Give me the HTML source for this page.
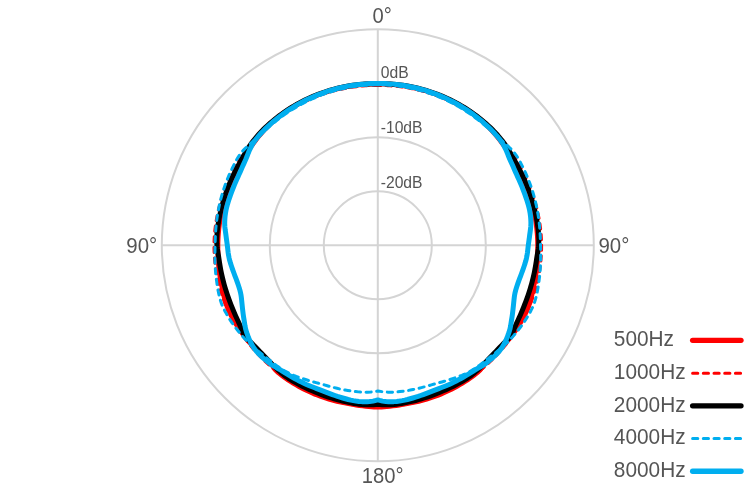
<!DOCTYPE html>
<html><head><meta charset="utf-8"><style>
html,body{margin:0;padding:0;background:#fff;width:756px;height:491px;overflow:hidden}
svg{display:block;will-change:transform}
text{font-family:"Liberation Sans",sans-serif;fill:#555}
</style></head><body>
<svg width="756" height="491" viewBox="0 0 756 491">
<g fill="none" stroke="#d4d4d4" stroke-width="2">
<circle cx="377.8" cy="245.3" r="54" />
<circle cx="377.8" cy="245.3" r="108" />
<circle cx="377.8" cy="245.3" r="162" />
<circle cx="377.8" cy="245.3" r="216" />
<line x1="377.8" y1="29.30000000000001" x2="377.8" y2="461.3" />
<line x1="161.8" y1="245.3" x2="593.8" y2="245.3" />
</g>
<g font-size="22">
<text transform="translate(382.2,22.5) scale(0.92,1)" text-anchor="middle">0°</text>
<text transform="translate(382.6,482.9) scale(0.92,1)" text-anchor="middle">180°</text>
<text transform="translate(157.3,252.8) scale(0.93,1)" text-anchor="end">90°</text>
<text transform="translate(598.5,252.8) scale(0.93,1)">90°</text>
</g>
<g font-size="16">
<text transform="translate(380.7,77.8) scale(0.98,1)">0dB</text>
<text transform="translate(380.7,132.6) scale(0.98,1)">-10dB</text>
<text transform="translate(380.7,187.6) scale(0.98,1)">-20dB</text>
</g>
<path d="M377.80,83.80 L376.25,83.80 L374.45,83.82 L372.40,83.86 L370.13,83.94 L367.67,84.07 L365.04,84.24 L362.25,84.47 L359.34,84.77 L356.32,85.13 L353.21,85.56 L350.05,86.07 L346.84,86.64 L343.63,87.29 L340.41,88.00 L337.23,88.77 L334.09,89.60 L331.03,90.47 L328.05,91.38 L325.19,92.31 L322.46,93.26 L319.81,94.22 L317.17,95.23 L314.54,96.28 L311.94,97.37 L309.35,98.50 L306.77,99.67 L304.22,100.89 L301.69,102.16 L299.18,103.47 L296.69,104.82 L294.23,106.22 L291.80,107.67 L289.39,109.16 L287.02,110.71 L284.67,112.30 L282.36,113.94 L280.08,115.62 L277.84,117.36 L275.64,119.14 L273.48,120.97 L271.38,122.83 L269.38,124.70 L267.46,126.57 L265.60,128.47 L263.81,130.37 L262.07,132.31 L260.37,134.26 L258.71,136.25 L257.08,138.28 L255.47,140.35 L253.87,142.48 L252.27,144.66 L250.68,146.91 L249.09,149.24 L247.48,151.65 L245.87,154.15 L244.24,156.76 L242.59,159.48 L240.92,162.32 L239.24,165.30 L238.09,167.39 L236.93,169.58 L235.75,171.88 L234.57,174.27 L233.39,176.75 L232.22,179.31 L231.07,181.95 L229.95,184.66 L228.85,187.43 L227.79,190.26 L226.77,193.14 L225.80,196.05 L224.87,199.00 L224.00,201.97 L223.19,204.96 L222.43,207.95 L221.74,210.93 L221.10,213.91 L220.53,216.86 L220.02,219.79 L219.56,222.67 L219.17,225.50 L218.83,228.28 L218.55,230.99 L218.32,233.62 L218.13,236.16 L217.99,238.61 L217.90,240.96 L217.83,243.19 L217.80,245.30 L217.81,249.51 L217.91,253.38 L218.07,256.94 L218.27,260.21 L218.51,263.24 L218.77,266.05 L219.05,268.67 L219.35,271.13 L219.66,273.47 L219.98,275.70 L220.32,277.87 L220.67,280.00 L221.06,282.13 L221.49,284.27 L222.22,287.82 L222.89,290.96 L223.51,293.77 L224.10,296.35 L224.71,298.80 L225.37,301.21 L226.13,303.65 L227.04,306.21 L228.02,308.69 L228.98,310.91 L229.95,313.00 L231.01,315.12 L232.21,317.38 L233.64,319.92 L235.37,322.86 L237.50,326.30 L238.72,328.16 L240.11,330.21 L241.67,332.41 L243.38,334.73 L245.23,337.12 L247.19,339.57 L249.24,342.03 L251.37,344.47 L253.54,346.87 L255.73,349.21 L257.92,351.45 L260.06,353.58 L262.13,355.58 L264.10,357.44 L265.92,359.12 L267.58,360.63 L269.02,361.95 L272.21,365.04 L273.49,366.72 L274.09,367.96 L275.27,369.63 L278.37,372.56 L279.91,373.82 L281.68,375.20 L283.66,376.68 L285.82,378.23 L288.15,379.83 L290.63,381.45 L293.22,383.07 L295.91,384.68 L298.66,386.24 L301.45,387.75 L304.25,389.20 L307.03,390.56 L309.75,391.83 L312.40,393.00 L314.92,394.08 L317.30,395.04 L320.32,396.19 L323.26,397.24 L326.13,398.19 L328.94,399.05 L331.69,399.83 L334.38,400.54 L337.03,401.20 L339.64,401.80 L342.21,402.36 L344.77,402.89 L347.31,403.38 L349.84,403.85 L352.96,404.40 L356.18,404.93 L359.45,405.42 L362.69,405.86 L365.84,406.23 L368.83,406.53 L371.59,406.76 L374.05,406.93 L376.15,407.04 L377.80,407.10 L379.45,407.04 L381.55,406.93 L384.01,406.76 L386.77,406.53 L389.76,406.23 L392.91,405.86 L396.15,405.42 L399.42,404.93 L402.64,404.40 L405.76,403.85 L408.29,403.38 L410.83,402.89 L413.39,402.36 L415.96,401.80 L418.57,401.20 L421.22,400.54 L423.91,399.83 L426.66,399.05 L429.47,398.19 L432.34,397.24 L435.28,396.19 L438.30,395.04 L440.68,394.08 L443.20,393.00 L445.85,391.83 L448.57,390.56 L451.35,389.20 L454.15,387.75 L456.94,386.24 L459.69,384.68 L462.38,383.07 L464.97,381.45 L467.45,379.83 L469.78,378.23 L471.94,376.68 L473.92,375.20 L475.69,373.82 L477.23,372.56 L480.33,369.63 L481.51,367.96 L482.11,366.72 L483.39,365.04 L486.58,361.95 L488.02,360.63 L489.68,359.12 L491.50,357.44 L493.47,355.58 L495.54,353.58 L497.68,351.45 L499.87,349.21 L502.06,346.87 L504.23,344.47 L506.36,342.03 L508.41,339.57 L510.37,337.12 L512.22,334.73 L513.93,332.41 L515.49,330.21 L516.88,328.16 L518.10,326.30 L520.23,322.86 L521.96,319.92 L523.39,317.38 L524.59,315.12 L525.65,313.00 L526.62,310.91 L527.58,308.69 L528.56,306.21 L529.47,303.65 L530.23,301.21 L530.89,298.80 L531.50,296.35 L532.09,293.77 L532.71,290.96 L533.38,287.82 L534.11,284.27 L534.54,282.13 L534.93,280.00 L535.28,277.87 L535.62,275.70 L535.94,273.47 L536.25,271.13 L536.55,268.67 L536.83,266.05 L537.09,263.24 L537.33,260.21 L537.53,256.94 L537.69,253.38 L537.79,249.51 L537.80,245.30 L537.77,243.19 L537.70,240.96 L537.61,238.61 L537.47,236.16 L537.28,233.62 L537.05,230.99 L536.77,228.28 L536.43,225.50 L536.04,222.67 L535.58,219.79 L535.07,216.86 L534.50,213.91 L533.86,210.93 L533.17,207.95 L532.41,204.96 L531.60,201.97 L530.73,199.00 L529.80,196.05 L528.83,193.14 L527.81,190.26 L526.75,187.43 L525.65,184.66 L524.53,181.95 L523.38,179.31 L522.21,176.75 L521.03,174.27 L519.85,171.88 L518.67,169.58 L517.51,167.39 L516.36,165.30 L514.68,162.32 L513.01,159.48 L511.36,156.76 L509.73,154.15 L508.12,151.65 L506.51,149.24 L504.92,146.91 L503.33,144.66 L501.73,142.48 L500.13,140.35 L498.52,138.28 L496.89,136.25 L495.23,134.26 L493.53,132.31 L491.79,130.37 L490.00,128.47 L488.14,126.57 L486.22,124.70 L484.22,122.83 L482.12,120.97 L479.96,119.14 L477.76,117.36 L475.52,115.62 L473.24,113.94 L470.93,112.30 L468.58,110.71 L466.21,109.16 L463.80,107.67 L461.37,106.22 L458.91,104.82 L456.42,103.47 L453.91,102.16 L451.38,100.89 L448.83,99.67 L446.25,98.50 L443.66,97.37 L441.06,96.28 L438.43,95.23 L435.79,94.22 L433.14,93.26 L430.41,92.31 L427.55,91.38 L424.57,90.47 L421.51,89.60 L418.37,88.77 L415.19,88.00 L411.97,87.29 L408.76,86.64 L405.55,86.07 L402.39,85.56 L399.28,85.13 L396.26,84.77 L393.35,84.47 L390.56,84.24 L387.93,84.07 L385.47,83.94 L383.20,83.86 L381.15,83.82 L379.35,83.80 Z" fill="none" stroke="#ff0000" stroke-width="5" stroke-linejoin="round" stroke-linecap="round"/>
<path d="M377.80,85.50 L376.28,85.48 L374.53,85.49 L372.56,85.51 L370.37,85.57 L367.98,85.67 L365.42,85.81 L362.68,86.01 L359.78,86.27 L356.74,86.60 L353.57,87.00 L350.28,87.48 L346.89,88.04 L343.41,88.69 L339.87,89.44 L336.26,90.27 L334.05,90.82 L331.79,91.41 L329.47,92.05 L327.10,92.74 L324.69,93.48 L322.24,94.27 L319.75,95.12 L317.23,96.03 L314.68,96.99 L312.10,98.01 L309.50,99.09 L306.89,100.24 L304.26,101.45 L301.63,102.72 L298.99,104.05 L296.35,105.45 L293.72,106.91 L291.10,108.44 L288.49,110.03 L285.90,111.68 L283.33,113.39 L280.78,115.16 L278.27,116.99 L275.79,118.88 L273.35,120.82 L271.32,122.49 L269.28,124.25 L267.23,126.07 L265.18,127.97 L263.13,129.93 L261.09,131.96 L259.06,134.05 L257.05,136.20 L255.07,138.41 L253.11,140.68 L251.19,142.99 L249.31,145.34 L247.46,147.74 L245.67,150.17 L243.91,152.64 L242.21,155.13 L240.57,157.64 L238.98,160.16 L237.44,162.70 L235.97,165.24 L234.56,167.78 L233.21,170.31 L231.92,172.82 L230.69,175.32 L229.53,177.79 L228.43,180.23 L227.39,182.64 L226.41,184.99 L225.49,187.30 L224.63,189.55 L223.44,192.83 L222.36,196.01 L221.37,199.09 L220.47,202.08 L219.65,205.00 L218.90,207.84 L218.22,210.62 L217.60,213.35 L217.04,216.03 L216.53,218.67 L216.07,221.29 L215.66,223.90 L215.30,226.49 L214.97,229.09 L214.70,231.70 L214.46,234.34 L214.27,237.00 L214.13,239.71 L214.04,242.48 L214.00,245.30 L214.01,248.16 L214.08,251.02 L214.20,253.87 L214.37,256.73 L214.59,259.58 L214.87,262.42 L215.20,265.27 L215.58,268.10 L216.01,270.93 L216.49,273.74 L217.03,276.55 L217.62,279.35 L218.26,282.13 L218.95,284.91 L219.69,287.66 L220.49,290.41 L221.33,293.14 L222.22,295.85 L223.17,298.54 L224.16,301.22 L225.19,303.84 L226.26,306.39 L227.35,308.87 L228.47,311.29 L229.62,313.66 L230.81,315.99 L232.03,318.30 L233.30,320.59 L234.61,322.86 L235.96,325.14 L237.38,327.42 L238.85,329.72 L240.39,332.04 L242.00,334.39 L243.69,336.77 L245.48,339.20 L247.36,341.67 L249.35,344.20 L251.46,346.79 L253.70,349.43 L255.28,351.24 L256.95,353.09 L258.70,354.97 L260.53,356.89 L262.43,358.82 L264.41,360.76 L266.47,362.71 L268.59,364.66 L270.78,366.60 L273.04,368.53 L275.35,370.43 L277.71,372.31 L280.13,374.15 L282.58,375.96 L285.08,377.72 L287.61,379.44 L290.16,381.10 L292.73,382.72 L295.32,384.27 L297.91,385.76 L300.50,387.19 L303.09,388.56 L305.65,389.86 L308.20,391.09 L310.71,392.25 L313.19,393.35 L315.62,394.38 L318.00,395.34 L320.32,396.23 L322.56,397.06 L325.89,398.22 L329.23,399.30 L332.57,400.31 L335.90,401.24 L339.21,402.09 L342.48,402.85 L345.71,403.54 L348.87,404.15 L351.97,404.69 L354.98,405.15 L357.89,405.54 L360.70,405.87 L363.38,406.13 L365.93,406.35 L368.34,406.51 L370.59,406.63 L372.67,406.71 L374.57,406.77 L376.29,406.79 L377.80,406.80 L379.31,406.79 L381.03,406.77 L382.93,406.71 L385.01,406.63 L387.26,406.51 L389.67,406.35 L392.22,406.13 L394.90,405.87 L397.71,405.54 L400.62,405.15 L403.63,404.69 L406.73,404.15 L409.89,403.54 L413.12,402.85 L416.39,402.09 L419.70,401.24 L423.03,400.31 L426.37,399.30 L429.71,398.22 L433.04,397.06 L435.28,396.23 L437.60,395.34 L439.98,394.38 L442.41,393.35 L444.89,392.25 L447.40,391.09 L449.95,389.86 L452.51,388.56 L455.10,387.19 L457.69,385.76 L460.28,384.27 L462.87,382.72 L465.44,381.10 L467.99,379.44 L470.52,377.72 L473.02,375.96 L475.47,374.15 L477.89,372.31 L480.25,370.43 L482.56,368.53 L484.82,366.60 L487.01,364.66 L489.13,362.71 L491.19,360.76 L493.17,358.82 L495.07,356.89 L496.90,354.97 L498.65,353.09 L500.32,351.24 L501.90,349.43 L504.14,346.79 L506.25,344.20 L508.24,341.67 L510.12,339.20 L511.91,336.77 L513.60,334.39 L515.21,332.04 L516.75,329.72 L518.22,327.42 L519.64,325.14 L520.99,322.86 L522.30,320.59 L523.57,318.30 L524.79,315.99 L525.98,313.66 L527.13,311.29 L528.25,308.87 L529.34,306.39 L530.41,303.84 L531.44,301.22 L532.43,298.54 L533.38,295.85 L534.27,293.14 L535.11,290.41 L535.91,287.66 L536.65,284.91 L537.34,282.13 L537.98,279.35 L538.57,276.55 L539.11,273.74 L539.59,270.93 L540.02,268.10 L540.40,265.27 L540.73,262.42 L541.01,259.58 L541.23,256.73 L541.40,253.87 L541.52,251.02 L541.59,248.16 L541.60,245.30 L541.56,242.48 L541.47,239.71 L541.33,237.00 L541.14,234.34 L540.90,231.70 L540.63,229.09 L540.30,226.49 L539.94,223.90 L539.53,221.29 L539.07,218.67 L538.56,216.03 L538.00,213.35 L537.38,210.62 L536.70,207.84 L535.95,205.00 L535.13,202.08 L534.23,199.09 L533.24,196.01 L532.16,192.83 L530.97,189.55 L530.11,187.30 L529.19,184.99 L528.21,182.64 L527.17,180.23 L526.07,177.79 L524.91,175.32 L523.68,172.82 L522.39,170.31 L521.04,167.78 L519.63,165.24 L518.16,162.70 L516.62,160.16 L515.03,157.64 L513.39,155.13 L511.69,152.64 L509.93,150.17 L508.14,147.74 L506.29,145.34 L504.41,142.99 L502.49,140.68 L500.53,138.41 L498.55,136.20 L496.54,134.05 L494.51,131.96 L492.47,129.93 L490.42,127.97 L488.37,126.07 L486.32,124.25 L484.28,122.49 L482.25,120.82 L479.81,118.88 L477.33,116.99 L474.82,115.16 L472.27,113.39 L469.70,111.68 L467.11,110.03 L464.50,108.44 L461.88,106.91 L459.25,105.45 L456.61,104.05 L453.97,102.72 L451.34,101.45 L448.71,100.24 L446.10,99.09 L443.50,98.01 L440.92,96.99 L438.37,96.03 L435.85,95.12 L433.36,94.27 L430.91,93.48 L428.50,92.74 L426.13,92.05 L423.81,91.41 L421.55,90.82 L419.34,90.27 L415.73,89.44 L412.19,88.69 L408.71,88.04 L405.32,87.48 L402.03,87.00 L398.86,86.60 L395.82,86.27 L392.92,86.01 L390.18,85.81 L387.62,85.67 L385.23,85.57 L383.04,85.51 L381.07,85.49 L379.32,85.48 Z" fill="none" stroke="#ff0000" stroke-width="3" stroke-linejoin="round" stroke-linecap="round" stroke-dasharray="5.2,5.5"/>
<path d="M377.80,83.80 L376.12,83.78 L373.97,83.77 L371.41,83.81 L368.55,83.89 L365.46,84.04 L362.24,84.26 L358.96,84.55 L355.72,84.91 L352.59,85.32 L349.67,85.76 L347.01,86.22 L344.55,86.68 L342.20,87.16 L339.90,87.67 L337.54,88.23 L335.06,88.86 L332.37,89.59 L329.39,90.46 L326.06,91.51 L322.29,92.79 L320.19,93.54 L317.93,94.40 L315.52,95.35 L312.99,96.39 L310.36,97.53 L307.65,98.76 L304.89,100.08 L302.10,101.48 L299.30,102.96 L296.51,104.50 L293.74,106.09 L291.03,107.73 L288.39,109.40 L285.83,111.08 L283.38,112.77 L281.04,114.44 L278.84,116.08 L276.78,117.66 L274.88,119.17 L273.15,120.59 L270.12,123.18 L267.51,125.53 L265.24,127.66 L263.24,129.62 L261.44,131.45 L259.78,133.22 L258.19,134.98 L256.61,136.80 L255.01,138.73 L253.32,140.85 L251.65,143.06 L250.11,145.25 L248.66,147.43 L247.27,149.62 L245.90,151.87 L244.54,154.19 L243.14,156.62 L241.69,159.19 L240.17,161.94 L238.54,164.90 L237.40,167.02 L236.22,169.27 L235.01,171.64 L233.79,174.11 L232.57,176.66 L231.37,179.29 L230.19,181.99 L229.04,184.72 L227.94,187.49 L226.89,190.26 L225.89,193.03 L224.96,195.78 L224.09,198.49 L223.30,201.14 L222.58,203.71 L221.80,206.64 L221.06,209.60 L220.36,212.58 L219.72,215.56 L219.13,218.52 L218.61,221.45 L218.14,224.33 L217.75,227.14 L217.42,229.88 L217.17,232.52 L216.98,235.04 L216.86,237.43 L216.80,239.68 L216.85,243.30 L217.06,246.28 L217.36,248.84 L217.73,251.18 L218.12,253.55 L218.55,256.14 L219.01,259.19 L219.37,261.64 L219.78,264.26 L220.24,267.00 L220.76,269.84 L221.33,272.71 L221.95,275.59 L222.61,278.43 L223.30,281.20 L224.00,283.84 L224.70,286.32 L225.57,289.25 L226.46,292.04 L227.35,294.74 L228.26,297.34 L229.17,299.87 L230.10,302.34 L231.04,304.78 L231.99,307.19 L233.12,309.95 L234.28,312.72 L235.45,315.43 L236.62,318.05 L237.76,320.54 L238.85,322.85 L239.84,324.95 L241.14,327.95 L242.02,330.35 L242.97,332.63 L244.49,335.22 L246.00,337.19 L247.80,339.24 L249.80,341.32 L251.90,343.40 L254.00,345.47 L256.00,347.50 L257.87,349.47 L259.68,351.38 L261.50,353.28 L263.36,355.24 L265.34,357.31 L267.49,359.53 L269.26,361.36 L271.16,363.34 L273.18,365.40 L275.28,367.48 L277.41,369.53 L279.55,371.48 L281.64,373.29 L283.64,374.90 L286.09,376.73 L288.35,378.28 L290.54,379.67 L292.76,381.00 L295.14,382.37 L297.80,383.86 L299.97,385.03 L302.22,386.19 L304.56,387.33 L307.00,388.47 L309.56,389.62 L312.24,390.79 L315.07,391.97 L318.05,393.19 L320.40,394.11 L322.94,395.08 L325.65,396.06 L328.47,397.04 L331.35,397.98 L334.25,398.87 L337.13,399.70 L339.92,400.45 L342.58,401.11 L345.06,401.68 L347.31,402.16 L350.87,402.87 L353.91,403.42 L356.57,403.85 L359.02,404.21 L361.39,404.48 L363.86,404.69 L367.05,404.83 L370.31,404.84 L373.37,404.75 L375.95,404.61 L377.80,404.50 L379.65,404.61 L382.23,404.75 L385.29,404.84 L388.55,404.83 L391.74,404.69 L394.21,404.48 L396.58,404.21 L399.03,403.85 L401.69,403.42 L404.73,402.87 L408.29,402.16 L410.54,401.68 L413.02,401.11 L415.68,400.45 L418.47,399.70 L421.35,398.87 L424.25,397.98 L427.13,397.04 L429.95,396.06 L432.66,395.08 L435.20,394.11 L437.55,393.19 L440.53,391.97 L443.36,390.79 L446.04,389.62 L448.60,388.47 L451.04,387.33 L453.38,386.19 L455.63,385.03 L457.80,383.86 L460.46,382.37 L462.84,381.00 L465.06,379.67 L467.25,378.28 L469.51,376.73 L471.96,374.90 L473.96,373.29 L476.05,371.48 L478.19,369.53 L480.32,367.48 L482.42,365.40 L484.44,363.34 L486.34,361.36 L488.11,359.53 L490.26,357.31 L492.24,355.24 L494.10,353.28 L495.92,351.38 L497.73,349.47 L499.60,347.50 L501.60,345.47 L503.70,343.40 L505.80,341.32 L507.80,339.24 L509.60,337.19 L511.11,335.22 L512.63,332.63 L513.58,330.35 L514.46,327.95 L515.76,324.95 L516.75,322.85 L517.84,320.54 L518.98,318.05 L520.15,315.43 L521.32,312.72 L522.48,309.95 L523.61,307.19 L524.56,304.78 L525.50,302.34 L526.43,299.87 L527.34,297.34 L528.25,294.74 L529.14,292.04 L530.03,289.25 L530.90,286.32 L531.60,283.84 L532.30,281.20 L532.99,278.43 L533.65,275.59 L534.27,272.71 L534.84,269.84 L535.36,267.00 L535.82,264.26 L536.23,261.64 L536.59,259.19 L537.05,256.14 L537.48,253.55 L537.87,251.18 L538.24,248.84 L538.54,246.28 L538.75,243.30 L538.80,239.68 L538.74,237.43 L538.62,235.04 L538.43,232.52 L538.18,229.88 L537.85,227.14 L537.46,224.33 L536.99,221.45 L536.47,218.52 L535.88,215.56 L535.24,212.58 L534.54,209.60 L533.80,206.64 L533.02,203.71 L532.30,201.14 L531.51,198.49 L530.64,195.78 L529.71,193.03 L528.71,190.26 L527.66,187.49 L526.56,184.72 L525.41,181.99 L524.23,179.29 L523.03,176.66 L521.81,174.11 L520.59,171.64 L519.38,169.27 L518.20,167.02 L517.06,164.90 L515.43,161.94 L513.91,159.19 L512.46,156.62 L511.06,154.19 L509.70,151.87 L508.33,149.62 L506.94,147.43 L505.49,145.25 L503.95,143.06 L502.28,140.85 L500.59,138.73 L498.99,136.80 L497.41,134.98 L495.82,133.22 L494.16,131.45 L492.36,129.62 L490.36,127.66 L488.09,125.53 L485.48,123.18 L482.45,120.59 L480.72,119.17 L478.82,117.66 L476.76,116.08 L474.56,114.44 L472.22,112.77 L469.77,111.08 L467.21,109.40 L464.57,107.73 L461.86,106.09 L459.09,104.50 L456.30,102.96 L453.50,101.48 L450.71,100.08 L447.95,98.76 L445.24,97.53 L442.61,96.39 L440.08,95.35 L437.67,94.40 L435.41,93.54 L433.31,92.79 L429.54,91.51 L426.21,90.46 L423.23,89.59 L420.54,88.86 L418.06,88.23 L415.70,87.67 L413.40,87.16 L411.05,86.68 L408.59,86.22 L405.93,85.76 L403.01,85.32 L399.88,84.91 L396.64,84.55 L393.36,84.26 L390.14,84.04 L387.05,83.89 L384.19,83.81 L381.63,83.77 L379.48,83.78 Z" fill="none" stroke="#000000" stroke-width="5" stroke-linejoin="round" stroke-linecap="round"/>
<path d="M377.80,84.80 L376.28,84.81 L374.53,84.83 L372.57,84.89 L370.42,84.97 L368.08,85.10 L365.58,85.27 L362.92,85.50 L360.14,85.78 L357.24,86.13 L354.23,86.55 L351.15,87.04 L347.99,87.61 L344.79,88.25 L341.55,88.96 L338.30,89.76 L335.04,90.62 L331.80,91.55 L328.59,92.55 L325.43,93.61 L322.33,94.71 L319.30,95.86 L316.37,97.05 L313.53,98.25 L310.81,99.47 L308.22,100.69 L305.77,101.89 L303.46,103.07 L301.32,104.20 L299.34,105.29 L297.55,106.30 L293.59,108.65 L290.17,110.81 L287.20,112.79 L284.62,114.58 L282.36,116.22 L280.35,117.72 L278.52,119.11 L276.82,120.44 L275.19,121.73 L273.58,123.02 L271.94,124.36 L270.20,125.80 L267.62,127.99 L265.22,130.05 L262.99,132.00 L260.89,133.87 L258.89,135.66 L256.98,137.40 L255.13,139.12 L253.32,140.85 L250.99,143.04 L248.80,145.05 L246.71,146.96 L244.72,148.87 L242.82,150.87 L241.01,153.03 L239.36,155.32 L237.88,157.62 L236.51,159.98 L235.18,162.46 L233.82,165.11 L232.38,167.98 L231.25,170.28 L230.13,172.68 L229.02,175.18 L227.92,177.78 L226.83,180.49 L225.76,183.29 L224.71,186.20 L223.69,189.21 L222.89,191.73 L222.09,194.37 L221.32,197.11 L220.58,199.93 L219.89,202.80 L219.24,205.70 L218.64,208.59 L218.10,211.45 L217.61,214.25 L217.18,216.98 L216.75,219.97 L216.38,222.97 L216.07,225.97 L215.80,228.94 L215.59,231.85 L215.42,234.68 L215.29,237.41 L215.20,240.01 L215.12,242.46 L215.04,245.76 L214.98,248.67 L214.93,251.34 L214.89,253.94 L214.88,256.63 L214.92,259.55 L215.00,262.23 L215.12,264.98 L215.27,267.79 L215.47,270.66 L215.72,273.58 L216.03,276.57 L216.41,279.61 L216.78,282.37 L217.20,285.27 L217.68,288.25 L218.22,291.25 L218.83,294.21 L219.51,297.09 L220.26,299.82 L221.06,302.35 L222.20,305.39 L223.42,308.14 L224.69,310.69 L226.02,313.11 L227.41,315.50 L228.87,317.94 L230.41,320.40 L232.02,322.81 L233.69,325.18 L235.41,327.51 L237.18,329.79 L238.97,332.05 L240.78,334.24 L242.59,336.37 L244.44,338.46 L246.36,340.54 L248.38,342.62 L250.54,344.73 L252.49,346.52 L254.52,348.27 L256.62,349.99 L258.80,351.73 L261.06,353.49 L263.42,355.32 L265.86,357.24 L267.86,358.82 L269.95,360.49 L272.13,362.20 L274.37,363.94 L276.67,365.65 L279.00,367.31 L281.35,368.88 L283.68,370.35 L285.99,371.67 L288.56,373.00 L291.15,374.21 L293.74,375.32 L296.32,376.33 L298.88,377.26 L301.40,378.13 L303.87,378.97 L306.30,379.77 L308.91,380.60 L311.34,381.31 L313.67,381.95 L316.02,382.58 L318.49,383.26 L321.19,384.01 L324.22,384.87 L326.42,385.50 L328.84,386.19 L331.45,386.90 L334.17,387.62 L336.97,388.31 L339.79,388.96 L342.56,389.55 L345.24,390.07 L347.76,390.51 L350.06,390.87 L352.08,391.15 L355.64,391.58 L358.33,391.87 L360.53,392.07 L362.61,392.19 L364.94,392.24 L367.74,392.16 L370.73,391.95 L373.61,391.65 L376.07,391.34 L377.80,391.10 L379.53,391.34 L381.99,391.65 L384.87,391.95 L387.86,392.16 L390.66,392.24 L392.99,392.19 L395.07,392.07 L397.27,391.87 L399.96,391.58 L403.52,391.15 L405.54,390.87 L407.84,390.51 L410.36,390.07 L413.04,389.55 L415.81,388.96 L418.63,388.31 L421.43,387.62 L424.15,386.90 L426.76,386.19 L429.18,385.50 L431.38,384.87 L434.41,384.01 L437.11,383.26 L439.58,382.58 L441.93,381.95 L444.26,381.31 L446.69,380.60 L449.30,379.77 L451.73,378.97 L454.20,378.13 L456.72,377.26 L459.28,376.33 L461.86,375.32 L464.45,374.21 L467.04,373.00 L469.61,371.67 L471.92,370.35 L474.25,368.88 L476.60,367.31 L478.93,365.65 L481.23,363.94 L483.47,362.20 L485.65,360.49 L487.74,358.82 L489.74,357.24 L492.18,355.32 L494.54,353.49 L496.80,351.73 L498.98,349.99 L501.08,348.27 L503.11,346.52 L505.06,344.73 L507.22,342.62 L509.24,340.54 L511.16,338.46 L513.01,336.37 L514.82,334.24 L516.63,332.05 L518.42,329.79 L520.19,327.51 L521.91,325.18 L523.58,322.81 L525.19,320.40 L526.73,317.94 L528.19,315.50 L529.58,313.11 L530.91,310.69 L532.18,308.14 L533.40,305.39 L534.54,302.35 L535.34,299.82 L536.09,297.09 L536.77,294.21 L537.38,291.25 L537.92,288.25 L538.40,285.27 L538.82,282.37 L539.19,279.61 L539.57,276.57 L539.88,273.58 L540.13,270.66 L540.33,267.79 L540.48,264.98 L540.60,262.23 L540.68,259.55 L540.72,256.63 L540.71,253.94 L540.67,251.34 L540.62,248.67 L540.56,245.76 L540.48,242.46 L540.40,240.01 L540.31,237.41 L540.18,234.68 L540.01,231.85 L539.80,228.94 L539.53,225.97 L539.22,222.97 L538.85,219.97 L538.42,216.98 L537.99,214.25 L537.50,211.45 L536.96,208.59 L536.36,205.70 L535.71,202.80 L535.02,199.93 L534.28,197.11 L533.51,194.37 L532.71,191.73 L531.91,189.21 L530.89,186.20 L529.84,183.29 L528.77,180.49 L527.68,177.78 L526.58,175.18 L525.47,172.68 L524.35,170.28 L523.22,167.98 L521.78,165.11 L520.42,162.46 L519.09,159.98 L517.72,157.62 L516.24,155.32 L514.59,153.03 L512.78,150.87 L510.88,148.87 L508.89,146.96 L506.80,145.05 L504.61,143.04 L502.28,140.85 L500.47,139.12 L498.62,137.40 L496.71,135.66 L494.71,133.87 L492.61,132.00 L490.38,130.05 L487.98,127.99 L485.40,125.80 L483.66,124.36 L482.02,123.02 L480.41,121.73 L478.78,120.44 L477.08,119.11 L475.25,117.72 L473.24,116.22 L470.98,114.58 L468.40,112.79 L465.43,110.81 L462.01,108.65 L458.05,106.30 L456.26,105.29 L454.28,104.20 L452.14,103.07 L449.83,101.89 L447.38,100.69 L444.79,99.47 L442.07,98.25 L439.23,97.05 L436.30,95.86 L433.27,94.71 L430.17,93.61 L427.01,92.55 L423.80,91.55 L420.56,90.62 L417.30,89.76 L414.05,88.96 L410.81,88.25 L407.61,87.61 L404.45,87.04 L401.37,86.55 L398.36,86.13 L395.46,85.78 L392.68,85.50 L390.02,85.27 L387.52,85.10 L385.18,84.97 L383.03,84.89 L381.07,84.83 L379.32,84.81 Z" fill="none" stroke="#00aeef" stroke-width="3" stroke-linejoin="round" stroke-linecap="round" stroke-dasharray="5.2,5.5"/>
<path d="M377.80,83.40 L376.25,83.40 L374.44,83.43 L372.39,83.48 L370.12,83.57 L367.65,83.70 L365.01,83.88 L362.22,84.12 L359.30,84.42 L356.27,84.79 L353.16,85.23 L349.99,85.75 L346.79,86.33 L343.56,86.99 L340.35,87.72 L337.16,88.50 L334.02,89.34 L330.96,90.23 L327.98,91.16 L325.12,92.11 L322.39,93.07 L319.71,94.07 L316.98,95.14 L314.22,96.29 L311.45,97.50 L308.67,98.77 L305.89,100.11 L303.14,101.50 L300.42,102.94 L297.73,104.43 L295.10,105.95 L292.54,107.51 L290.04,109.08 L287.63,110.67 L285.30,112.25 L283.08,113.83 L280.96,115.39 L278.95,116.92 L277.06,118.41 L275.30,119.84 L273.67,121.20 L270.45,124.01 L267.70,126.55 L265.33,128.83 L263.29,130.90 L261.50,132.78 L259.93,134.52 L258.50,136.16 L257.18,137.75 L255.91,139.35 L253.67,142.43 L252.23,144.74 L251.15,146.76 L250.02,149.01 L248.90,151.49 L247.95,153.95 L246.95,156.57 L245.71,159.52 L244.71,161.73 L243.64,164.10 L242.52,166.60 L241.36,169.21 L240.18,171.87 L238.98,174.57 L237.93,176.92 L236.84,179.35 L235.74,181.84 L234.64,184.38 L233.57,186.94 L232.55,189.52 L231.58,192.08 L230.64,194.68 L229.70,197.35 L228.79,200.04 L227.94,202.72 L227.17,205.35 L226.52,207.88 L225.99,210.25 L225.45,213.32 L225.08,216.15 L224.85,218.79 L224.73,221.32 L224.70,223.78 L224.84,226.71 L225.14,229.42 L225.51,232.04 L225.87,234.68 L226.21,237.29 L226.56,239.85 L226.92,242.48 L227.30,245.30 L227.59,247.71 L227.87,250.22 L228.19,252.83 L228.61,255.52 L229.17,258.30 L229.79,260.77 L230.55,263.38 L231.41,266.04 L232.31,268.63 L233.19,271.07 L233.99,273.25 L235.02,276.02 L235.92,278.38 L236.75,280.59 L237.55,282.88 L238.37,285.28 L239.17,287.68 L239.90,290.11 L240.51,292.57 L240.98,294.97 L241.33,297.35 L241.62,299.93 L241.93,302.97 L242.18,305.40 L242.46,308.14 L242.79,311.06 L243.16,314.01 L243.56,316.87 L243.98,319.48 L244.52,322.82 L244.98,325.80 L245.57,328.79 L246.55,332.17 L247.45,334.76 L248.50,337.53 L249.72,340.40 L251.12,343.29 L252.70,346.11 L254.47,348.79 L256.18,350.99 L258.10,353.16 L260.17,355.26 L262.31,357.27 L264.47,359.15 L266.57,360.89 L268.54,362.46 L271.06,364.31 L273.39,365.81 L275.65,367.14 L277.94,368.47 L280.40,369.96 L282.67,371.38 L285.10,372.89 L287.60,374.42 L290.08,375.89 L292.45,377.25 L294.60,378.44 L297.19,379.83 L299.29,380.95 L301.47,382.08 L304.33,383.48 L306.42,384.44 L308.78,385.45 L311.33,386.48 L314.01,387.53 L316.73,388.56 L319.43,389.58 L322.04,390.57 L324.59,391.56 L327.17,392.57 L329.77,393.58 L332.36,394.56 L334.94,395.50 L337.47,396.37 L339.94,397.15 L342.74,397.99 L345.49,398.77 L348.18,399.49 L350.81,400.12 L353.39,400.65 L355.91,401.07 L358.90,401.42 L361.83,401.63 L364.64,401.72 L367.26,401.70 L369.61,401.59 L373.06,401.11 L375.89,400.42 L377.80,399.90 L379.71,400.42 L382.54,401.11 L385.99,401.59 L388.34,401.70 L390.96,401.72 L393.77,401.63 L396.70,401.42 L399.69,401.07 L402.21,400.65 L404.79,400.12 L407.42,399.49 L410.11,398.77 L412.86,397.99 L415.66,397.15 L418.13,396.37 L420.66,395.50 L423.24,394.56 L425.83,393.58 L428.43,392.57 L431.01,391.56 L433.56,390.57 L436.17,389.58 L438.87,388.56 L441.59,387.53 L444.27,386.48 L446.82,385.45 L449.18,384.44 L451.27,383.48 L454.13,382.08 L456.31,380.95 L458.41,379.83 L461.00,378.44 L463.15,377.25 L465.52,375.89 L468.00,374.42 L470.50,372.89 L472.93,371.38 L475.20,369.96 L477.66,368.47 L479.95,367.14 L482.21,365.81 L484.54,364.31 L487.06,362.46 L489.03,360.89 L491.13,359.15 L493.29,357.27 L495.43,355.26 L497.50,353.16 L499.42,350.99 L501.13,348.79 L502.90,346.11 L504.48,343.29 L505.88,340.40 L507.10,337.53 L508.15,334.76 L509.05,332.17 L510.03,328.79 L510.62,325.80 L511.08,322.82 L511.62,319.48 L512.04,316.87 L512.44,314.01 L512.81,311.06 L513.14,308.14 L513.42,305.40 L513.67,302.97 L513.98,299.93 L514.27,297.35 L514.62,294.97 L515.09,292.57 L515.70,290.11 L516.43,287.68 L517.23,285.28 L518.05,282.88 L518.85,280.59 L519.68,278.38 L520.58,276.02 L521.61,273.25 L522.41,271.07 L523.29,268.63 L524.19,266.04 L525.05,263.38 L525.81,260.77 L526.43,258.30 L526.99,255.52 L527.41,252.83 L527.73,250.22 L528.01,247.71 L528.30,245.30 L528.68,242.48 L529.04,239.85 L529.39,237.29 L529.73,234.68 L530.09,232.04 L530.46,229.42 L530.76,226.71 L530.90,223.78 L530.87,221.32 L530.75,218.79 L530.52,216.15 L530.15,213.32 L529.61,210.25 L529.08,207.88 L528.43,205.35 L527.66,202.72 L526.81,200.04 L525.90,197.35 L524.96,194.68 L524.02,192.08 L523.05,189.52 L522.03,186.94 L520.96,184.38 L519.86,181.84 L518.76,179.35 L517.67,176.92 L516.62,174.57 L515.42,171.87 L514.24,169.21 L513.08,166.60 L511.96,164.10 L510.89,161.73 L509.89,159.52 L508.65,156.57 L507.65,153.95 L506.70,151.49 L505.58,149.01 L504.45,146.76 L503.37,144.74 L501.93,142.43 L499.69,139.35 L498.42,137.75 L497.10,136.16 L495.67,134.52 L494.10,132.78 L492.31,130.90 L490.27,128.83 L487.90,126.55 L485.15,124.01 L481.93,121.20 L480.30,119.84 L478.54,118.41 L476.65,116.92 L474.64,115.39 L472.52,113.83 L470.30,112.25 L467.97,110.67 L465.56,109.08 L463.06,107.51 L460.50,105.95 L457.87,104.43 L455.18,102.94 L452.46,101.50 L449.71,100.11 L446.93,98.77 L444.15,97.50 L441.38,96.29 L438.62,95.14 L435.89,94.07 L433.21,93.07 L430.48,92.11 L427.62,91.16 L424.64,90.23 L421.58,89.34 L418.44,88.50 L415.25,87.72 L412.04,86.99 L408.81,86.33 L405.61,85.75 L402.44,85.23 L399.33,84.79 L396.30,84.42 L393.38,84.12 L390.59,83.88 L387.95,83.70 L385.48,83.57 L383.21,83.48 L381.16,83.43 L379.35,83.40 Z" fill="none" stroke="#00aeef" stroke-width="5" stroke-linejoin="round" stroke-linecap="round"/>
<g font-size="21.6">
<text transform="translate(613.8,346) scale(0.965,1)">500Hz</text>
<text transform="translate(613.8,378.8) scale(0.965,1)">1000Hz</text>
<text transform="translate(613.8,411.6) scale(0.965,1)">2000Hz</text>
<text transform="translate(613.8,444.4) scale(0.965,1)">4000Hz</text>
<text transform="translate(613.8,477.2) scale(0.965,1)">8000Hz</text>
</g>
<g stroke-linecap="round" fill="none">
<line x1="692.6" y1="340.3" x2="741" y2="340.3" stroke="#ff0000" stroke-width="5.3"/>
<line x1="692.6" y1="373.2" x2="741" y2="373.2" stroke="#ff0000" stroke-width="3" stroke-dasharray="5.2,5.5"/>
<line x1="692.6" y1="405.8" x2="741" y2="405.8" stroke="#000" stroke-width="5.3"/>
<line x1="692.6" y1="438.6" x2="741" y2="438.6" stroke="#00aeef" stroke-width="3" stroke-dasharray="5.2,5.5"/>
<line x1="692.6" y1="471.25" x2="741" y2="471.25" stroke="#00aeef" stroke-width="5.3"/>
</g>
</svg>
</body></html>
